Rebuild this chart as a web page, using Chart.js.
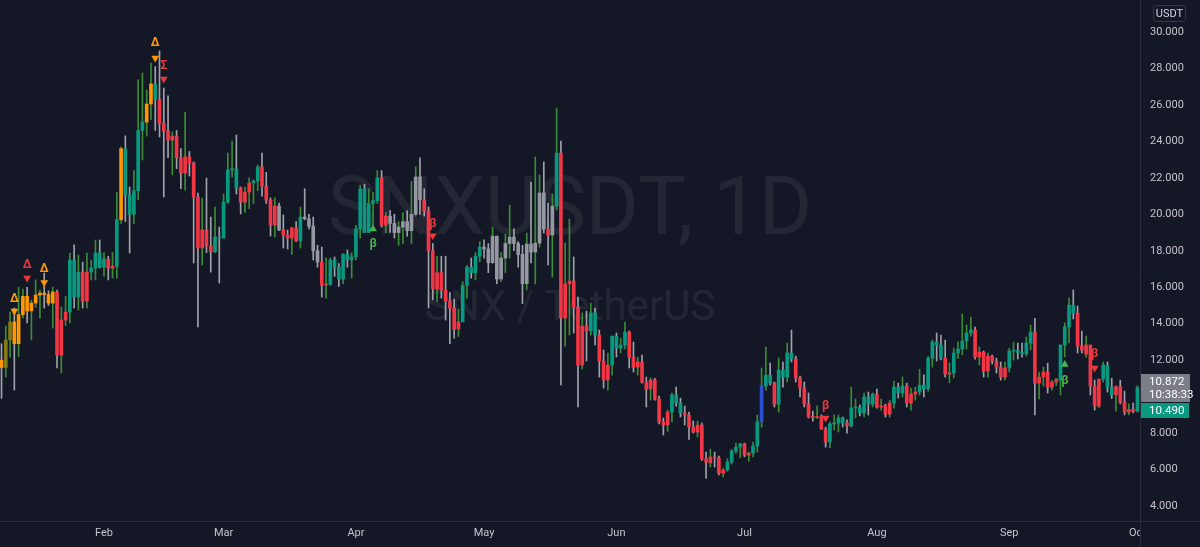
<!DOCTYPE html>
<html>
<head>
<meta charset="utf-8">
<title>SNXUSDT, 1D</title>
<script src="https://cdn.jsdelivr.net/npm/chart.js@4.4.1/dist/chart.umd.min.js"></script>
<style>
  html, body { margin: 0; padding: 0; background: #141826; overflow: hidden; }
</style>
</head>
<body>
<canvas id="chart1" width="1200" height="547"></canvas>
<script>
// daily candles, 2021-01-08 .. 2021-10-01 (one line per month)
const opens = [
  12.0, 11.6, 13.11, 14.09, 12.9, 14.5, 15.5, 14.7, 15.13, 15.57, 15.68, 15.6, 15.13, 15.74, 12.28, 14.2, 14.64, 17.49, 15.46, 16.83, 15.24, 16.83, 17.05, 17.88,
  17.1, 17.55, 17.05, 17.15, 19.7, 23.6, 21.06, 20.0, 21.3, 24.6, 25.06, 26.05, 27.15, 26.3, 25.0, 24.57, 24.07, 24.29, 23.1, 22.26, 23.15, 22.81, 20.95, 18.15, 19.14, 18.26, 17.95, 18.75,
  18.7, 20.67, 22.43, 22.5, 21.44, 20.67, 21.22, 21.72, 21.82, 22.6, 21.55, 20.78, 19.41, 20.45, 19.14, 18.86, 18.7, 19.25, 18.55, 19.85, 19.75, 19.35, 18.0, 17.38, 16.12, 16.15, 17.5, 17.1, 16.45, 17.8, 17.5,
  17.66, 19.2, 21.4, 19.0, 20.6, 20.75, 22.0, 19.4, 19.9, 19.5, 19.0, 19.3, 19.6, 19.1, 20.0, 22.05, 20.8, 20.2, 18.0, 15.9, 16.8, 15.85, 15.25, 14.85, 13.7, 14.1, 16.1, 17.1, 16.8, 17.7,
  18.2, 18.1, 17.35, 18.8, 16.45, 17.6, 18.4, 18.75, 18.4, 17.8, 16.2, 18.37, 17.93, 18.42, 21.17, 19.19, 18.86, 20.45, 23.36, 14.31, 16.18, 16.34, 14.91, 11.73, 13.87, 13.6, 14.59, 13.38, 11.95, 10.91, 11.73,
  13.32, 12.66, 12.83, 13.54, 12.17, 11.62, 11.9, 10.8, 10.42, 10.91, 9.87, 8.61, 8.44, 9.15, 10.09, 9.65, 9.1, 8.99, 8.33, 8.06, 8.44, 6.58, 6.36, 6.69, 6.63, 5.8, 5.97, 6.41, 7.01, 7.23,
  7.4, 6.79, 6.9, 7.29, 8.61, 10.58, 11.18, 10.75, 9.59, 11.46, 11.07, 12.39, 12.06, 11.02, 10.47, 9.59, 8.88, 8.85, 8.9, 8.22, 7.51, 8.5, 8.55, 8.83, 8.55, 8.39, 9.38, 9.4, 9.1, 9.98, 9.59,
  10.14, 9.43, 9.48, 9.04, 9.65, 10.52, 10.2, 10.58, 9.65, 10.14, 10.25, 10.63, 10.42, 12.11, 12.99, 12.83, 12.11, 11.24, 11.29, 12.39, 12.61, 13.05, 13.49, 13.65, 12.17, 12.44, 11.4, 12.22, 11.95, 11.62, 11.07,
  11.57, 12.5, 12.52, 12.42, 12.35, 12.94, 13.54, 10.74, 11.07, 11.35, 10.52, 10.8, 10.9, 12.83, 13.82, 15.02, 14.58, 12.77, 12.33, 12.83, 10.58, 9.48, 10.96, 11.73, 10.52, 10.1, 10.55, 9.7, 9.15, 9.3,
  9.2
];
const highs = [
  12.9, 13.87, 14.64, 14.86, 16.0, 15.9, 16.0, 15.3, 16.4, 15.85, 16.78, 15.8, 16.0, 15.85, 14.91, 15.5, 17.88, 18.32, 17.77, 17.38, 17.88, 17.49, 18.59, 18.59,
  17.9, 17.7, 17.9, 21.2, 23.7, 24.3, 21.5, 22.4, 27.37, 27.75, 26.82, 28.3, 28.1, 28.96, 26.93, 26.5, 24.51, 24.6, 23.6, 25.6, 23.45, 22.87, 21.17, 20.89, 21.99, 19.85, 20.4, 19.3,
  21.11, 23.36, 24.02, 24.35, 21.5, 21.5, 22.0, 21.9, 22.7, 23.36, 22.3, 20.9, 20.9, 20.62, 19.96, 19.14, 19.3, 19.6, 20.4, 21.4, 20.0, 19.85, 18.3, 18.2, 17.6, 17.6, 17.66, 17.3, 17.85, 18.04, 17.9,
  19.4, 21.6, 21.65, 21.4, 21.2, 22.4, 22.4, 20.1, 20.2, 20.0, 19.6, 20.1, 20.2, 21.8, 22.6, 23.1, 21.4, 20.4, 18.4, 17.7, 17.7, 17.7, 15.7, 15.35, 14.8, 16.3, 17.2, 17.6, 17.9, 18.5,
  18.6, 18.4, 19.3, 18.8, 17.9, 18.9, 20.5, 19.2, 18.5, 18.3, 18.97, 21.77, 23.14, 22.16, 22.87, 20.62, 21.11, 25.83, 24.02, 18.42, 19.74, 17.66, 15.46, 14.59, 14.69, 15.13, 14.86, 13.65, 12.56, 12.39, 13.32,
  13.49, 13.2, 14.09, 13.6, 12.99, 12.17, 12.28, 11.07, 11.02, 11.0, 10.03, 8.83, 9.26, 10.2, 10.52, 9.92, 9.48, 9.15, 8.66, 8.66, 8.55, 6.96, 7.12, 6.96, 6.74, 6.08, 6.6, 7.1, 7.45, 7.45,
  7.45, 6.96, 7.51, 8.99, 11.57, 12.72, 11.84, 10.8, 12.12, 11.9, 12.94, 13.65, 12.22, 11.13, 10.8, 10.2, 9.2, 9.5, 9.0, 8.33, 8.61, 8.99, 8.99, 8.88, 8.72, 10.52, 9.87, 9.54, 10.19, 10.25, 10.2,
  10.41, 9.87, 9.59, 9.81, 10.85, 10.74, 11.07, 10.74, 10.47, 10.52, 11.5, 11.2, 12.2, 13.1, 13.49, 13.38, 13.1, 11.84, 12.66, 13.0, 14.53, 13.93, 14.36, 13.82, 12.72, 12.5, 12.39, 12.28, 12.11, 11.9, 11.9,
  12.66, 12.99, 12.94, 12.94, 13.27, 13.92, 14.3, 11.35, 11.62, 11.84, 10.9, 11.0, 12.83, 14.04, 15.41, 15.85, 14.97, 13.6, 13.32, 12.83, 10.91, 10.96, 11.9, 11.9, 11.0, 10.6, 10.9, 10.3, 9.6, 9.65,
  10.6
];
const lows = [
  9.9, 11.07, 12.17, 10.36, 12.2, 14.3, 14.04, 13.11, 14.9, 14.3, 14.86, 15.0, 13.76, 11.57, 11.29, 13.9, 14.04, 14.86, 14.75, 14.86, 14.86, 16.4, 16.4, 17.05,
  16.6, 16.4, 16.5, 16.5, 19.5, 19.6, 17.88, 19.5, 20.8, 22.98, 24.29, 25.2, 24.6, 24.24, 20.95, 23.1, 22.16, 22.5, 21.4, 21.33, 22.1, 17.33, 13.82, 17.22, 17.9, 16.83, 17.88, 16.23,
  18.7, 20.6, 22.05, 21.11, 20.02, 20.1, 20.3, 20.6, 21.3, 21.0, 20.6, 18.81, 18.75, 19.1, 18.15, 18.1, 17.8, 18.5, 18.15, 19.7, 19.2, 17.5, 17.1, 15.46, 15.4, 16.1, 16.6, 16.05, 16.2, 17.1, 16.5,
  17.5, 18.7, 19.0, 19.0, 19.35, 20.6, 19.3, 19.0, 19.0, 18.7, 18.3, 18.4, 18.8, 18.4, 19.9, 20.0, 19.9, 14.86, 15.3, 15.2, 15.4, 14.2, 12.9, 13.2, 13.3, 14.1, 15.4, 16.5, 16.4, 17.4,
  17.6, 16.8, 17.3, 16.2, 16.3, 16.8, 17.6, 18.0, 17.1, 15.1, 15.85, 17.33, 16.18, 18.2, 18.97, 17.22, 16.56, 20.24, 10.64, 12.77, 13.38, 13.49, 9.43, 11.51, 11.95, 13.38, 12.83, 11.07, 10.47, 10.36, 11.18,
  12.17, 12.4, 12.61, 11.57, 11.35, 11.18, 10.74, 9.43, 9.81, 9.81, 8.5, 7.89, 8.1, 8.61, 9.48, 8.88, 8.44, 7.65, 8.0, 7.78, 6.5, 5.53, 6.14, 6.14, 5.7, 5.59, 5.9, 6.3, 6.9, 6.65,
  6.7, 6.45, 6.69, 6.96, 8.33, 10.36, 10.63, 9.43, 9.15, 10.52, 10.8, 11.9, 10.8, 9.98, 9.43, 8.83, 8.65, 8.8, 8.2, 7.23, 7.18, 8.17, 8.06, 8.33, 8.0, 8.33, 8.83, 8.94, 8.88, 8.99, 9.43,
  9.37, 9.26, 8.88, 8.88, 9.37, 9.92, 9.98, 9.43, 9.26, 9.81, 10.09, 9.98, 10.3, 11.62, 11.95, 12.01, 11.07, 10.75, 11.02, 12.1, 12.3, 12.61, 13.32, 12.06, 11.73, 11.07, 11.07, 11.79, 11.29, 10.91, 10.91,
  11.35, 12.0, 12.06, 12.17, 12.22, 12.56, 9.0, 9.87, 10.58, 10.2, 10.36, 10.6, 10.09, 12.17, 12.94, 14.26, 12.39, 12.39, 12.17, 10.09, 9.26, 9.4, 10.8, 10.25, 9.9, 9.2, 9.6, 9.0, 9.0, 9.1,
  9.15
];
const closes = [
  11.6, 13.11, 14.09, 12.9, 14.5, 15.5, 14.7, 15.13, 15.57, 15.68, 15.6, 15.13, 15.74, 12.28, 14.2, 14.64, 17.49, 15.46, 16.83, 15.24, 16.83, 17.05, 17.88, 17.1,
  17.55, 17.05, 17.15, 19.7, 23.6, 21.06, 20.0, 21.3, 24.6, 25.06, 26.05, 27.15, 26.3, 25.0, 24.57, 24.07, 24.29, 23.1, 22.26, 23.15, 22.81, 20.95, 18.15, 19.14, 18.26, 17.95, 18.75, 18.7,
  20.67, 22.43, 22.5, 21.44, 20.67, 21.22, 21.72, 21.82, 22.6, 21.55, 20.78, 19.41, 20.45, 19.14, 18.86, 18.7, 19.25, 18.55, 19.85, 19.75, 19.35, 18.0, 17.38, 16.12, 16.15, 17.5, 17.1, 16.45, 17.8, 17.5, 17.66,
  19.2, 21.4, 19.0, 20.6, 20.75, 22.0, 19.4, 19.9, 19.5, 19.0, 19.3, 19.6, 19.1, 20.0, 22.05, 20.8, 20.2, 18.0, 15.9, 16.8, 15.85, 15.25, 14.85, 13.7, 14.1, 16.1, 17.1, 16.8, 17.7, 18.2,
  18.1, 17.35, 18.8, 16.45, 17.6, 18.4, 18.75, 18.4, 17.8, 16.2, 18.37, 17.93, 18.42, 21.17, 19.19, 18.86, 20.45, 23.36, 14.31, 16.18, 16.34, 14.91, 11.73, 13.87, 13.6, 14.59, 13.38, 11.95, 10.91, 11.73, 13.32,
  12.66, 12.83, 13.54, 12.17, 11.62, 11.9, 10.8, 10.42, 10.91, 9.87, 8.61, 8.44, 9.15, 10.09, 9.65, 9.1, 8.99, 8.33, 8.06, 8.44, 6.58, 6.4, 6.69, 6.63, 5.8, 5.97, 6.41, 7.01, 7.23, 7.4,
  6.79, 6.9, 7.29, 8.61, 10.58, 11.18, 10.75, 9.59, 11.46, 11.07, 12.39, 12.06, 11.02, 10.47, 9.59, 8.88, 8.85, 8.9, 8.22, 7.51, 8.5, 8.55, 8.83, 8.55, 8.39, 9.38, 9.4, 9.1, 9.98, 9.59, 10.14,
  9.43, 9.48, 9.04, 9.65, 10.52, 10.2, 10.58, 9.65, 10.14, 10.25, 10.63, 10.42, 12.11, 12.99, 12.83, 12.11, 11.24, 11.29, 12.39, 12.61, 13.05, 13.49, 13.65, 12.17, 12.44, 11.4, 12.22, 11.95, 11.62, 11.07, 11.57,
  12.5, 12.52, 12.42, 12.35, 12.94, 13.54, 10.74, 11.07, 11.35, 10.52, 10.8, 10.96, 12.83, 13.82, 15.02, 14.58, 12.77, 12.56, 12.83, 10.58, 9.48, 10.96, 11.73, 10.52, 10.1, 10.55, 9.7, 9.15, 9.3, 9.2,
  10.49
];
// indicator bar state: t = bull, r = bear, o = orange, g = grey, y = olive, b = blue
const barState = [
  'oyyoooooooooorrrtttrrttt',
  'trrtotttttootrrrrrrrrrrrrrtt',
  'ttttrrrttrrrrgrrrrtggggrrtttttt',
  'ttttttrrggggggggrrrrrrrrrttttt',
  'gggggggggggggggrgtrrrrrrrttrrrt',
  'tttrrrrrrrrrrtttrrrrrrrrrrtttt',
  'rrttbttrttttrrrrrrrrttttrtttttt',
  'rrrrtttrrrttttttrrtttttrrrrrrrr',
  'ttttttrrrrrrttttrrrrrrtttrrrrr',
  't'
].join('');

const monthLabels = ['Feb', 'Mar', 'Apr', 'May', 'Jun', 'Jul', 'Aug', 'Sep', 'Oct'];
const monthStarts = [24, 52, 83, 113, 144, 174, 205, 236, 266];
const priceTicks = [4, 6, 8, 10, 12, 14, 16, 18, 20, 22, 24, 26, 28, 30];

// signal markers from the indicator
const signalIdx = [3, 6, 10, 36, 38, 87, 101, 193, 249, 256];
const signalGlyph = ['Δ', 'Δ', 'Δ', 'Δ', 'Σ', 'β', 'β', 'β', 'β', 'β'];
const signalSide = ['dn', 'dn', 'dn', 'dn', 'dn', 'up', 'dn', 'dn', 'up', 'dn'];
const signalKind = ['o', 'r', 'o', 'o', 'r', 'g', 'r', 'r', 'g', 'r'];
const arrowPrice = [14.69, 16.51, 16.26, 28.57, 27.42, 19.19, 18.83, 8.83, 11.76, 11.57];
const glyphPrice = [15.38, 17.22, 17.0, 29.37, 28.13, 18.37, 19.47, 9.51, 10.88, 12.33];

const symbolText = 'SNXUSDT, 1D';
const descText = 'SNX / TetherUS';
const currency = 'USDT';
const lastPrice = 10.490;
const refPrice = 10.872;
const countdown = '10:38:33';

const bg = '#141826';
const axisText = '#c6c2ca';
const lineCol = '#2a2e39';
const stateColors = { t: '#089981', r: '#f23645', o: '#ff9800', g: '#9598a1', y: '#847d17', b: '#2a4fd2' };
const wickUp = '#3d8b37';
const wickDown = '#9fa2ab';
const signalColors = { o: '#ff9800', r: '#e8383d', g: '#4caf50' };

const bodyData = opens.map((o, i) => ({ x: i, y: [Math.min(o, closes[i]), Math.max(o, closes[i])] }));
const wickData = opens.map((o, i) => ({ x: i, y: [lows[i], highs[i]] }));
const downMarks = [], upMarks = [], downCols = [], upCols = [];
signalIdx.forEach(function (d, k) {
    if (signalSide[k] == 'dn') {
        downMarks.push({ x: d, y: arrowPrice[k] });
        downCols.push(signalColors[signalKind[k]]);
    } else {
        upMarks.push({ x: d, y: arrowPrice[k] });
        upCols.push(signalColors[signalKind[k]]);
    }
});

//background, watermark, glyphs, axis lines, price labels
const decor = {
    id: 'decor',
    beforeDraw(chart) {
        const c = chart.ctx;
        c.save();
        c.fillStyle = bg;
        c.fillRect(0, 0, chart.width, chart.height);
        c.restore();
    },
    beforeDatasetsDraw(chart) {
        const c = chart.ctx, a = chart.chartArea;
        const cx = (a.left + a.right) / 2;
        c.save();
        c.fillStyle = 'rgba(255,255,255,0.065)';
        c.textAlign = 'center';
        c.textBaseline = 'middle';
        c.font = '81px Roboto';
        c.fillText(symbolText, cx, 214);
        c.font = '42px Roboto';
        c.fillText(descText, cx, 309);
        c.restore();
    },
    afterDatasetsDraw(chart) {
        const c = chart.ctx, xs = chart.scales.x, ys = chart.scales.y;
        c.save();
        c.textAlign = 'center';
        c.textBaseline = 'middle';
        c.font = 'bold 12px Roboto';
        signalIdx.forEach(function (d, k) {
            c.fillStyle = signalColors[signalKind[k]];
            c.fillText(signalGlyph[k], xs.getPixelForValue(d), ys.getPixelForValue(glyphPrice[k]));
        });
        c.restore();
    },
    afterDraw(chart) {
        const c = chart.ctx, a = chart.chartArea, ys = chart.scales.y;
        c.save();
        c.fillStyle = bg;
        c.fillRect(a.right + 1, a.bottom + 1, chart.width - a.right, chart.height - a.bottom);
        c.strokeStyle = lineCol;
        c.lineWidth = 1;
        c.beginPath();
        c.moveTo(a.right + 0.5, 0);
        c.lineTo(a.right + 0.5, chart.height);
        c.moveTo(0, a.bottom + 0.5);
        c.lineTo(chart.width, a.bottom + 0.5);
        c.stroke();

        // currency badge
        c.strokeStyle = '#363a45';
        c.beginPath();
        c.roundRect(1153.5, 5.5, 32, 16, 3);
        c.stroke();
        c.fillStyle = '#d1d4dc';
        c.font = '11px Roboto';
        c.textAlign = 'center';
        c.textBaseline = 'middle';
        c.fillText(currency, 1169.5, 14);

        // price labels
        const gy = Math.round(ys.getPixelForValue(refPrice)) - 7;
        c.fillStyle = '#7b7e88';
        c.fillRect(a.right + 1, gy, 49, 28);
        c.fillStyle = '#089981';
        c.fillRect(a.right + 1, gy + 29, 48, 15);
        c.fillStyle = '#ffffff';
        c.font = '11.5px Roboto';
        c.textAlign = 'left';
        c.fillText(refPrice.toFixed(3), a.right + 9, gy + 8);
        c.fillText(countdown, a.right + 9, gy + 21);
        c.fillText(lastPrice.toFixed(3), a.right + 9, gy + 37);
        c.restore();
    }
};

const config = {
    type: 'bar',
    data: {
        datasets: [{
            label: 'bodies',
            data: bodyData,
            order: 1,
            grouped: false,
            barThickness: 3,
            minBarLength: 1,
            borderWidth: 0,
            backgroundColor: ctx => stateColors[barState[ctx.dataIndex]]
        }, {
            label: 'wicks',
            data: wickData,
            order: 2,
            grouped: false,
            barThickness: 1,
            borderWidth: 0,
            backgroundColor: ctx => closes[ctx.dataIndex] >= opens[ctx.dataIndex] ? wickUp : wickDown
        }, {
            type: 'scatter',
            label: 'sell',
            data: downMarks,
            order: 0,
            pointStyle: 'triangle',
            rotation: 180,
            radius: 4.5,
            borderWidth: 0,
            clip: false,
            backgroundColor: downCols
        }, {
            type: 'scatter',
            label: 'buy',
            data: upMarks,
            order: 0,
            pointStyle: 'triangle',
            radius: 4.5,
            borderWidth: 0,
            clip: false,
            backgroundColor: upCols
        }]
    },
    options: {
        responsive: false,
        animation: false,
        events: [],
        layout: { padding: 0, autoPadding: false },
        plugins: { legend: { display: false }, tooltip: { enabled: false } },
        scales: {
            x: {
                type: 'linear',
                offset: false,
                min: -0.356,
                max: 266.62,
                grid: { display: false, drawTicks: false },
                border: { display: false },
                afterBuildTicks: s => { s.ticks = monthStarts.map(v => ({ value: v })); },
                afterFit: s => { s.height = 26; s.paddingLeft = 0; s.paddingRight = 0; },
                ticks: {
                    autoSkip: false,
                    maxRotation: 0,
                    padding: 6,
                    color: axisText,
                    font: { family: 'Roboto', size: 11 },
                    callback: v => monthLabels[monthStarts.indexOf(v)]
                }
            },
            y: {
                type: 'linear',
                position: 'right',
                min: 3.1772,
                max: 31.7553,
                grid: { display: false, drawTicks: false },
                border: { display: false },
                afterBuildTicks: s => { s.ticks = priceTicks.map(v => ({ value: v })); },
                afterFit: s => { s.width = 60; s.paddingTop = 0; s.paddingBottom = 0; },
                ticks: {
                    padding: 10,
                    color: axisText,
                    font: { family: 'Roboto', size: 11 },
                    callback: v => v.toFixed(3)
                }
            }
        }
    },
    plugins: [decor]
};

const myChart = new Chart(document.getElementById('chart1'), config);
</script>
</body>
</html>
